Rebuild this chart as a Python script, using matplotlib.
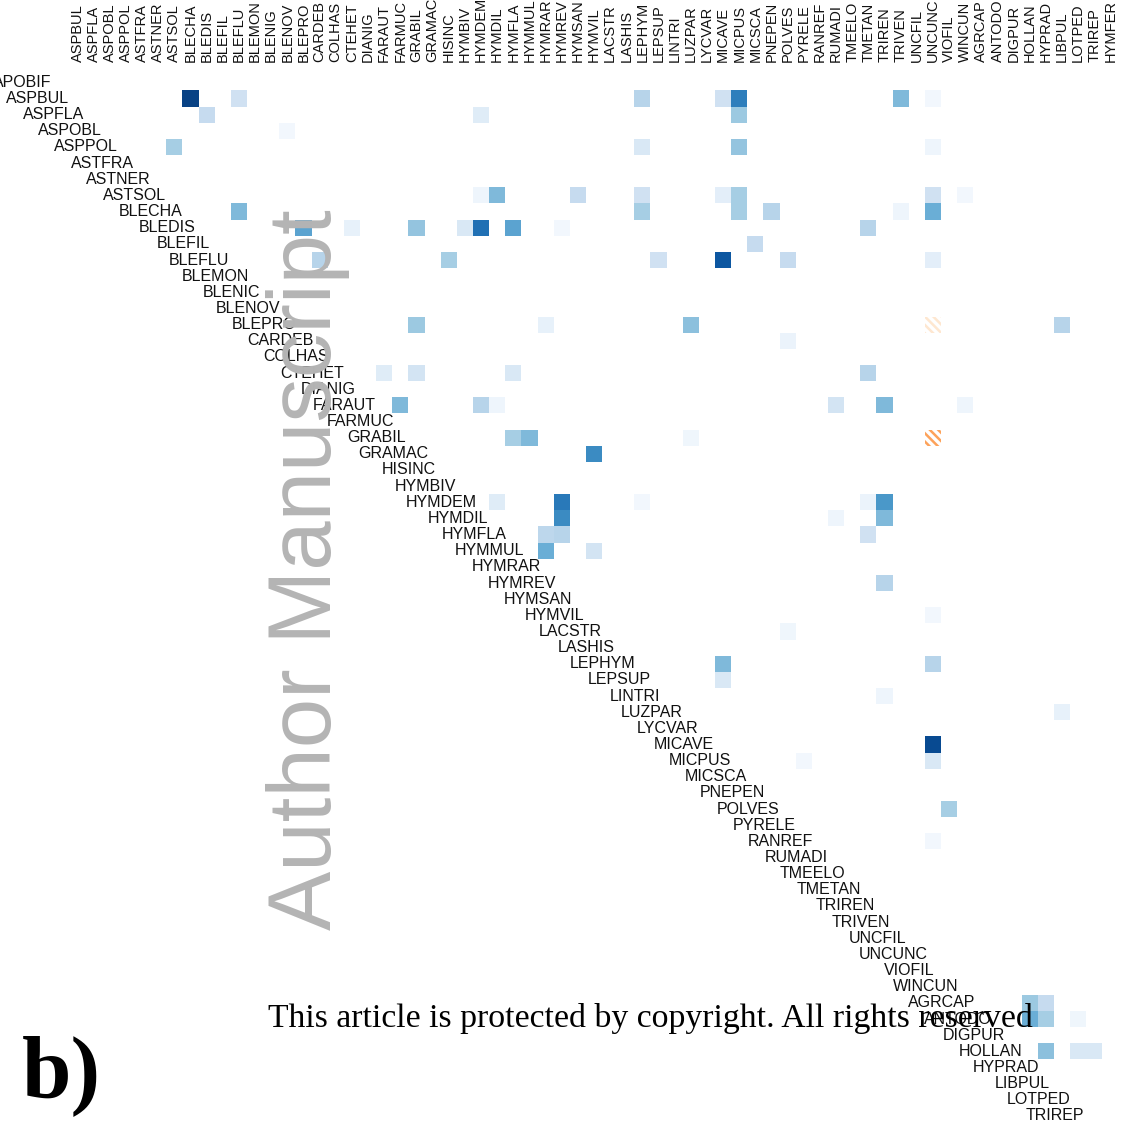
import numpy as np
import matplotlib
matplotlib.use("Agg")
import matplotlib.pyplot as plt
from matplotlib.patches import Rectangle

# Species codes: rows (first member of each pair) and columns (second member)
row_labels = [
    "APOBIF", "ASPBUL", "ASPFLA", "ASPOBL", "ASPPOL", "ASTFRA", "ASTNER", "ASTSOL",
    "BLECHA", "BLEDIS", "BLEFIL", "BLEFLU", "BLEMON", "BLENIC", "BLENOV", "BLEPRO",
    "CARDEB", "COLHAS", "CTEHET", "DIANIG", "FARAUT", "FARMUC", "GRABIL", "GRAMAC",
    "HISINC", "HYMBIV", "HYMDEM", "HYMDIL", "HYMFLA", "HYMMUL", "HYMRAR", "HYMREV",
    "HYMSAN", "HYMVIL", "LACSTR", "LASHIS", "LEPHYM", "LEPSUP", "LINTRI", "LUZPAR",
    "LYCVAR", "MICAVE", "MICPUS", "MICSCA", "PNEPEN", "POLVES", "PYRELE", "RANREF",
    "RUMADI", "TMEELO", "TMETAN", "TRIREN", "TRIVEN", "UNCFIL", "UNCUNC", "VIOFIL",
    "WINCUN", "AGRCAP", "ANTODO", "DIGPUR", "HOLLAN", "HYPRAD", "LIBPUL", "LOTPED",
    "TRIREP",
]
col_labels = [
    "ASPBUL", "ASPFLA", "ASPOBL", "ASPPOL", "ASTFRA", "ASTNER", "ASTSOL", "BLECHA",
    "BLEDIS", "BLEFIL", "BLEFLU", "BLEMON", "BLENIG", "BLENOV", "BLEPRO", "CARDEB",
    "COLHAS", "CTEHET", "DIANIG", "FARAUT", "FARMUC", "GRABIL", "GRAMAC", "HISINC",
    "HYMBIV", "HYMDEM", "HYMDIL", "HYMFLA", "HYMMUL", "HYMRAR", "HYMREV", "HYMSAN",
    "HYMVIL", "LACSTR", "LASHIS", "LEPHYM", "LEPSUP", "LINTRI", "LUZPAR", "LYCVAR",
    "MICAVE", "MICPUS", "MICSCA", "PNEPEN", "POLVES", "PYRELE", "RANREF", "RUMADI",
    "TMEELO", "TMETAN", "TRIREN", "TRIVEN", "UNCFIL", "UNCUNC", "VIOFIL", "WINCUN",
    "AGRCAP", "ANTODO", "DIGPUR", "HOLLAN", "HYPRAD", "LIBPUL", "LOTPED", "TRIREP",
    "HYMFER",
]

# Pairwise association strengths (negative = hatched orange)
pair_row = [
    "ASPBUL", "ASPBUL", "ASPBUL", "ASPBUL", "ASPBUL", "ASPBUL", "ASPBUL",
    "ASPFLA", "ASPFLA", "ASPFLA",
    "ASPOBL",
    "ASPPOL", "ASPPOL", "ASPPOL", "ASPPOL",
    "ASTSOL", "ASTSOL", "ASTSOL", "ASTSOL", "ASTSOL", "ASTSOL", "ASTSOL", "ASTSOL",
    "BLECHA", "BLECHA", "BLECHA", "BLECHA", "BLECHA", "BLECHA",
    "BLEDIS", "BLEDIS", "BLEDIS", "BLEDIS", "BLEDIS", "BLEDIS", "BLEDIS", "BLEDIS",
    "BLEFIL",
    "BLEFLU", "BLEFLU", "BLEFLU", "BLEFLU", "BLEFLU", "BLEFLU",
    "BLEPRO", "BLEPRO", "BLEPRO", "BLEPRO", "BLEPRO",
    "CARDEB",
    "CTEHET", "CTEHET", "CTEHET", "CTEHET",
    "FARAUT", "FARAUT", "FARAUT", "FARAUT", "FARAUT", "FARAUT",
    "GRABIL", "GRABIL", "GRABIL", "GRABIL",
    "GRAMAC",
    "HYMDEM", "HYMDEM", "HYMDEM", "HYMDEM", "HYMDEM",
    "HYMDIL", "HYMDIL", "HYMDIL",
    "HYMFLA", "HYMFLA", "HYMFLA",
    "HYMMUL", "HYMMUL",
    "HYMREV",
    "HYMVIL",
    "LACSTR",
    "LEPHYM", "LEPHYM",
    "LEPSUP",
    "LINTRI",
    "LUZPAR",
    "MICAVE",
    "MICPUS", "MICPUS",
    "POLVES",
    "RANREF",
    "AGRCAP", "AGRCAP",
    "ANTODO", "ANTODO", "ANTODO",
    "HOLLAN", "HOLLAN", "HOLLAN",
]
pair_col = [
    "BLECHA", "BLEFLU", "LEPHYM", "MICAVE", "MICPUS", "TRIVEN", "UNCUNC",
    "BLEDIS", "HYMDEM", "MICPUS",
    "BLENOV",
    "ASTSOL", "LEPHYM", "MICPUS", "UNCUNC",
    "HYMDEM", "HYMDIL", "HYMSAN", "LEPHYM", "MICAVE", "MICPUS", "UNCUNC", "WINCUN",
    "BLEFLU", "LEPHYM", "MICPUS", "PNEPEN", "TRIVEN", "UNCUNC",
    "BLEPRO", "CTEHET", "GRABIL", "HYMBIV", "HYMDEM", "HYMFLA", "HYMREV", "TMETAN",
    "MICSCA",
    "CARDEB", "HISINC", "LEPSUP", "MICAVE", "POLVES", "UNCUNC",
    "GRABIL", "HYMRAR", "LUZPAR", "UNCUNC", "LIBPUL",
    "POLVES",
    "FARAUT", "GRABIL", "HYMFLA", "TMETAN",
    "FARMUC", "HYMDEM", "HYMDIL", "RUMADI", "TRIREN", "WINCUN",
    "HYMFLA", "HYMMUL", "LUZPAR", "UNCUNC",
    "HYMVIL",
    "HYMDIL", "HYMREV", "LEPHYM", "TMETAN", "TRIREN",
    "HYMREV", "RUMADI", "TRIREN",
    "HYMRAR", "HYMREV", "TMETAN",
    "HYMRAR", "HYMVIL",
    "TRIREN",
    "UNCUNC",
    "POLVES",
    "MICAVE", "UNCUNC",
    "MICAVE",
    "TRIREN",
    "LIBPUL",
    "UNCUNC",
    "PYRELE", "UNCUNC",
    "VIOFIL",
    "UNCUNC",
    "HOLLAN", "HYPRAD",
    "HOLLAN", "HYPRAD", "LOTPED",
    "HYPRAD", "LOTPED", "TRIREP",
]
pair_val = [
    0.93, 0.20, 0.30, 0.20, 0.70, 0.45, 0.03,
    0.25, 0.12, 0.38,
    0.03,
    0.35, 0.15, 0.40, 0.05,
    0.05, 0.45, 0.25, 0.20, 0.10, 0.35, 0.20, 0.03,
    0.45, 0.35, 0.35, 0.30, 0.05, 0.50,
    0.55, 0.08, 0.40, 0.15, 0.75, 0.55, 0.03, 0.30,
    0.25,
    0.30, 0.35, 0.20, 0.85, 0.25, 0.10,
    0.38, 0.08, 0.42, -0.10, 0.30,
    0.06,
    0.12, 0.18, 0.15, 0.30,
    0.45, 0.30, 0.05, 0.18, 0.45, 0.05,
    0.35, 0.45, 0.04, -0.35,
    0.65,
    0.12, 0.72, 0.03, 0.06, 0.60,
    0.65, 0.05, 0.45,
    0.28, 0.30, 0.20,
    0.50, 0.18,
    0.30,
    0.03,
    0.04,
    0.45, 0.30,
    0.15,
    0.05,
    0.08,
    0.90,
    0.03, 0.15,
    0.35,
    0.03,
    0.38, 0.25,
    0.50, 0.35, 0.04,
    0.42, 0.15, 0.15,
]

n_rows, n_cols = len(row_labels), len(col_labels)

fig = plt.figure(figsize=(11.31, 11.34), dpi=100)
W, H = 1131, 1134
ax = fig.add_axes([69.4 / W, (H - 1124.0) / H, 1049.2 / W, 1049.7 / H])
ax.set_xlim(0.5, n_cols + 0.5)
ax.set_ylim(n_rows + 0.5, 0.5)
ax.axis("off")

# Fill the positive associations into a matrix, hatch the negative ones
mat = np.full((n_rows, n_cols), np.nan)
plt.rcParams["hatch.linewidth"] = 1.8
for r, c, v in zip(pair_row, pair_col, pair_val):
    i = row_labels.index(r)
    j = col_labels.index(c)
    if v >= 0:
        mat[i, j] = v
    else:
        col = plt.cm.Oranges(min(1.0, abs(v) * 1.2))
        ax.add_patch(Rectangle((j + 0.5, i + 0.5), 1, 1, facecolor="white",
                               edgecolor=col, linewidth=0, hatch="\\" * 4))

edges_x = np.arange(0.5, n_cols + 1.0, 1.0)
edges_y = np.arange(0.5, n_rows + 1.0, 1.0)
ax.pcolormesh(edges_x, edges_y, np.ma.masked_invalid(mat), cmap="Blues",
              vmin=0, vmax=1, shading="flat")

label_font = dict(family="Liberation Sans", color="#111111")

# Column labels across the top
for j, name in enumerate(col_labels):
    ax.text(j + 1, 0.5 - 0.75, name, rotation=90, ha="center", va="bottom",
            fontsize=10.5, clip_on=False, **label_font)

# Row labels running down the diagonal
for i, name in enumerate(row_labels):
    ax.text(i + 1 - 3.45, i + 1, name, ha="center", va="center",
            fontsize=11.5, clip_on=False, **label_font)

# Panel letter and page annotations
fig.text(22 / W, 1 - 1097 / H, "b)", family="Liberation Serif", fontweight="bold",
         fontsize=64, ha="left", va="baseline")
fig.text(308 / W, 1 - 570 / H, "Author Manuscript", rotation=90, ha="center",
         va="center", family="Liberation Sans", fontsize=64, color="#b4b4b4")
fig.text(268 / W, 1 - 1027 / H, "This article is protected by copyright. All rights reserved",
         family="Liberation Serif", fontsize=24.3, ha="left", va="baseline", color="black")

fig.savefig("out.png", dpi=100, facecolor="white")
